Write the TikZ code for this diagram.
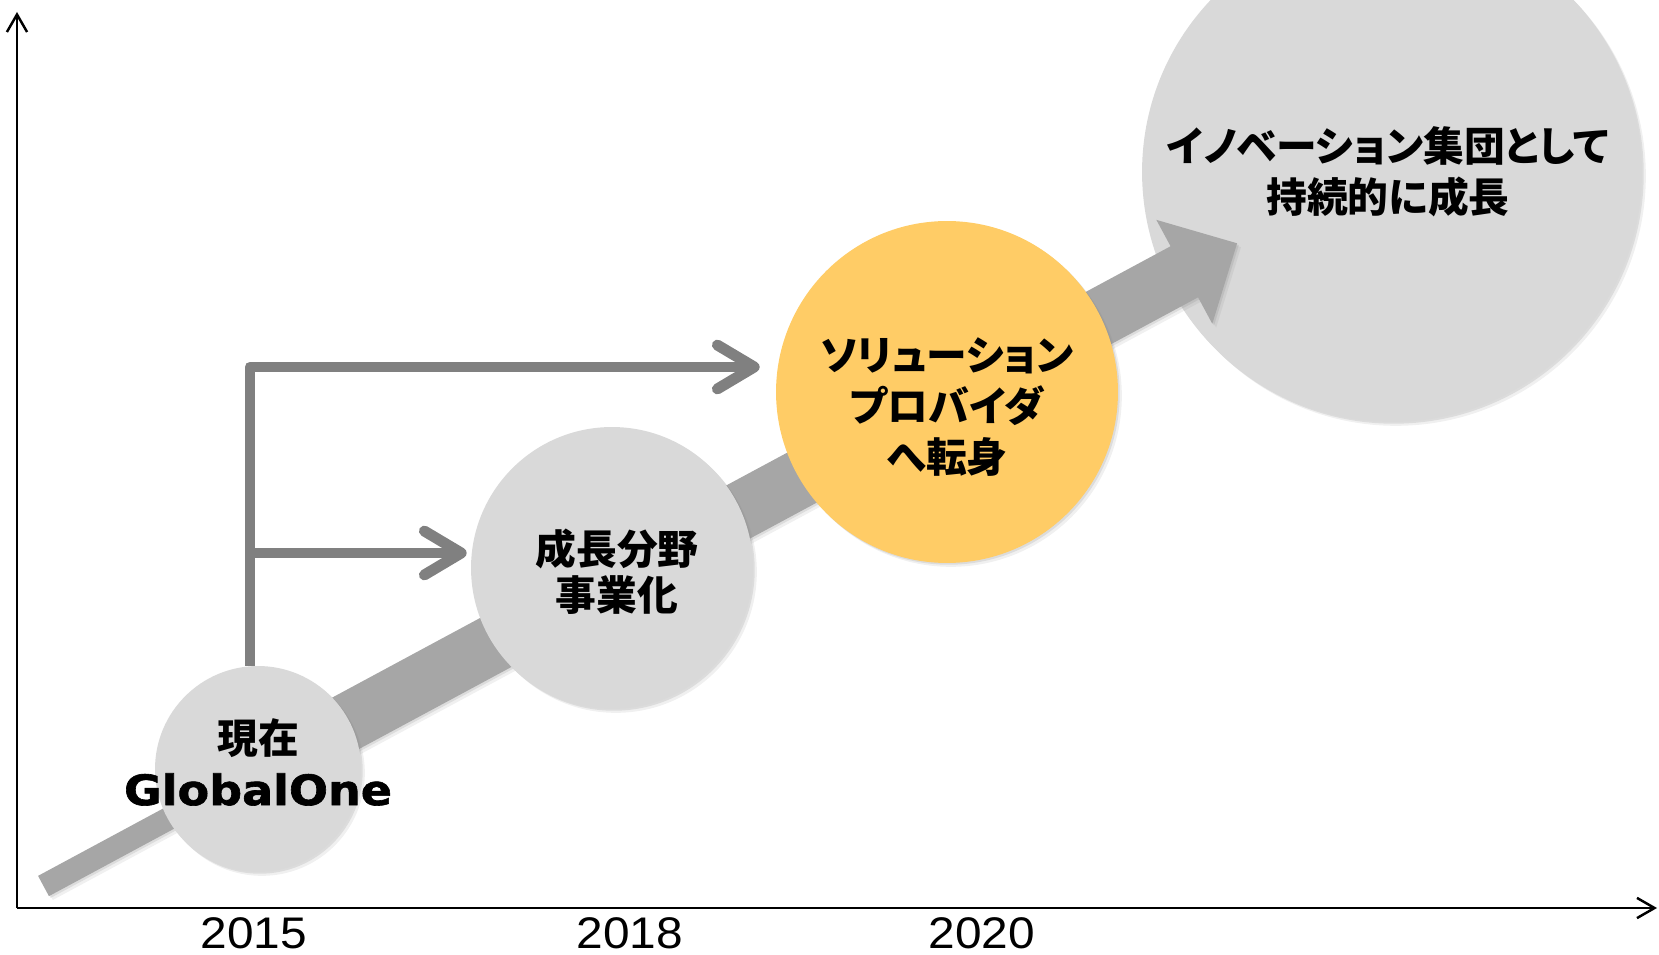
\documentclass[tikz,border=0pt]{standalone}
\usepackage{fontspec}
\newfontfamily\jpfont{Noto Sans CJK JP}[RawFeature=+palt]
\newfontfamily\yearfont{Liberation Sans}[FakeStretch=1.08]
\newfontfamily\logofont{DejaVu Sans}[FakeStretch=1.1,FakeBold=1.5]
\usetikzlibrary{arrows.meta,calc,shadows}

\definecolor{stagegray}{HTML}{D9D9D9}
\definecolor{roadgray}{HTML}{A6A6A6}
\definecolor{linkgray}{HTML}{808080}
\definecolor{solyellow}{HTML}{FFCC66}

\tikzset{
  softshadow/.style={drop shadow={shadow xshift=1pt,shadow yshift=-1pt,opacity=.18},
                     drop shadow={shadow xshift=2.2pt,shadow yshift=-2.2pt,opacity=.12}},
  stage/.style={circle,fill=stagegray,inner sep=0pt,softshadow},
  stagetext/.style={align=center,font=\jpfont\bfseries\fontsize{23.2pt}{28.9pt}\selectfont},
  link/.style={draw=linkgray,line width=6.2pt,line join=round,
               -{Straight Barb[length=21pt,width=25pt,round]}},
  axis/.style={line width=1.4pt,-{Straight Barb[length=10pt,width=11.5pt]}},
  year/.style={font=\yearfont\fontsize{25.2pt}{28pt}\selectfont}
}

\begin{document}
\begin{tikzpicture}[x=0.02cm,y=-0.02cm]

    \useasboundingbox (0,0) rectangle (1659,955);

    % Axes
    \coordinate (origin) at (17,908);
    \coordinate (ytop) at (17,12);
    \coordinate (xend) at (1657,908);
    \draw [axis] (origin) -- (ytop);
    \draw [axis] (origin) -- (xend);

    % Goal circle (drawn under the road arrow)
    \node [stage,minimum size=10cm] (innovation) at (1392,172) {};

    % Road arrow: thin lead-in, wide shaft, head
    \fill [roadgray,softshadow] (38.05,875.87) -- (252.85,760.17) -- (244.55,744.77)
        -- (1170.55,246.27) -- (1156.33,219.85) -- (1237.1,243.3) -- (1212.27,323.75)
        -- (1198.05,297.33) -- (272.05,795.83) -- (263.75,780.43) -- (48.95,896.13) -- cycle;

    % Stage circles
    \node [stage,minimum size=4.12cm] (now) at (258,769) {};
    \node [stage,minimum size=5.64cm] (growth) at (612,568) {};
    \node [stage,fill=solyellow,minimum size=6.84cm] (solution) at (947,392) {};

    % Branch arrows from today
    \coordinate (branch) at ($(now.north)+(-8,0)$);
    \coordinate (toSol) at ($(solution.west)+(-16,-25)$);
    \coordinate (toGrow) at ($(growth.west)+(-4,-15)$);
    \draw [link] (branch) |- (toSol);
    \draw [link] (branch) |- (toGrow);

    % Circle texts
    \node [stagetext,font=\jpfont\bfseries\fontsize{23.2pt}{29.5pt}\selectfont] (nowtext) at (258,762)
        {現在\\{\logofont\bfseries\fontsize{23.8pt}{29.5pt}\selectfont GlobalOne}};
    \node [stagetext,font=\jpfont\bfseries\fontsize{23.2pt}{26.1pt}\selectfont] (growthtext) at (617,572)
        {成長分野\\事業化};
    \node [stagetext] (soltext) at (947,407) {ソリューション\\プロバイダ\\へ転身};
    \node [stagetext] (innotext) at (1388,172) {イノベーション集団として\\持続的に成長};

    % Years
    \node [year] (y2015) at (254,933) {2015};
    \node [year] (y2018) at (630,933) {2018};
    \node [year] (y2020) at (982,933) {2020};

\end{tikzpicture}
\end{document}
